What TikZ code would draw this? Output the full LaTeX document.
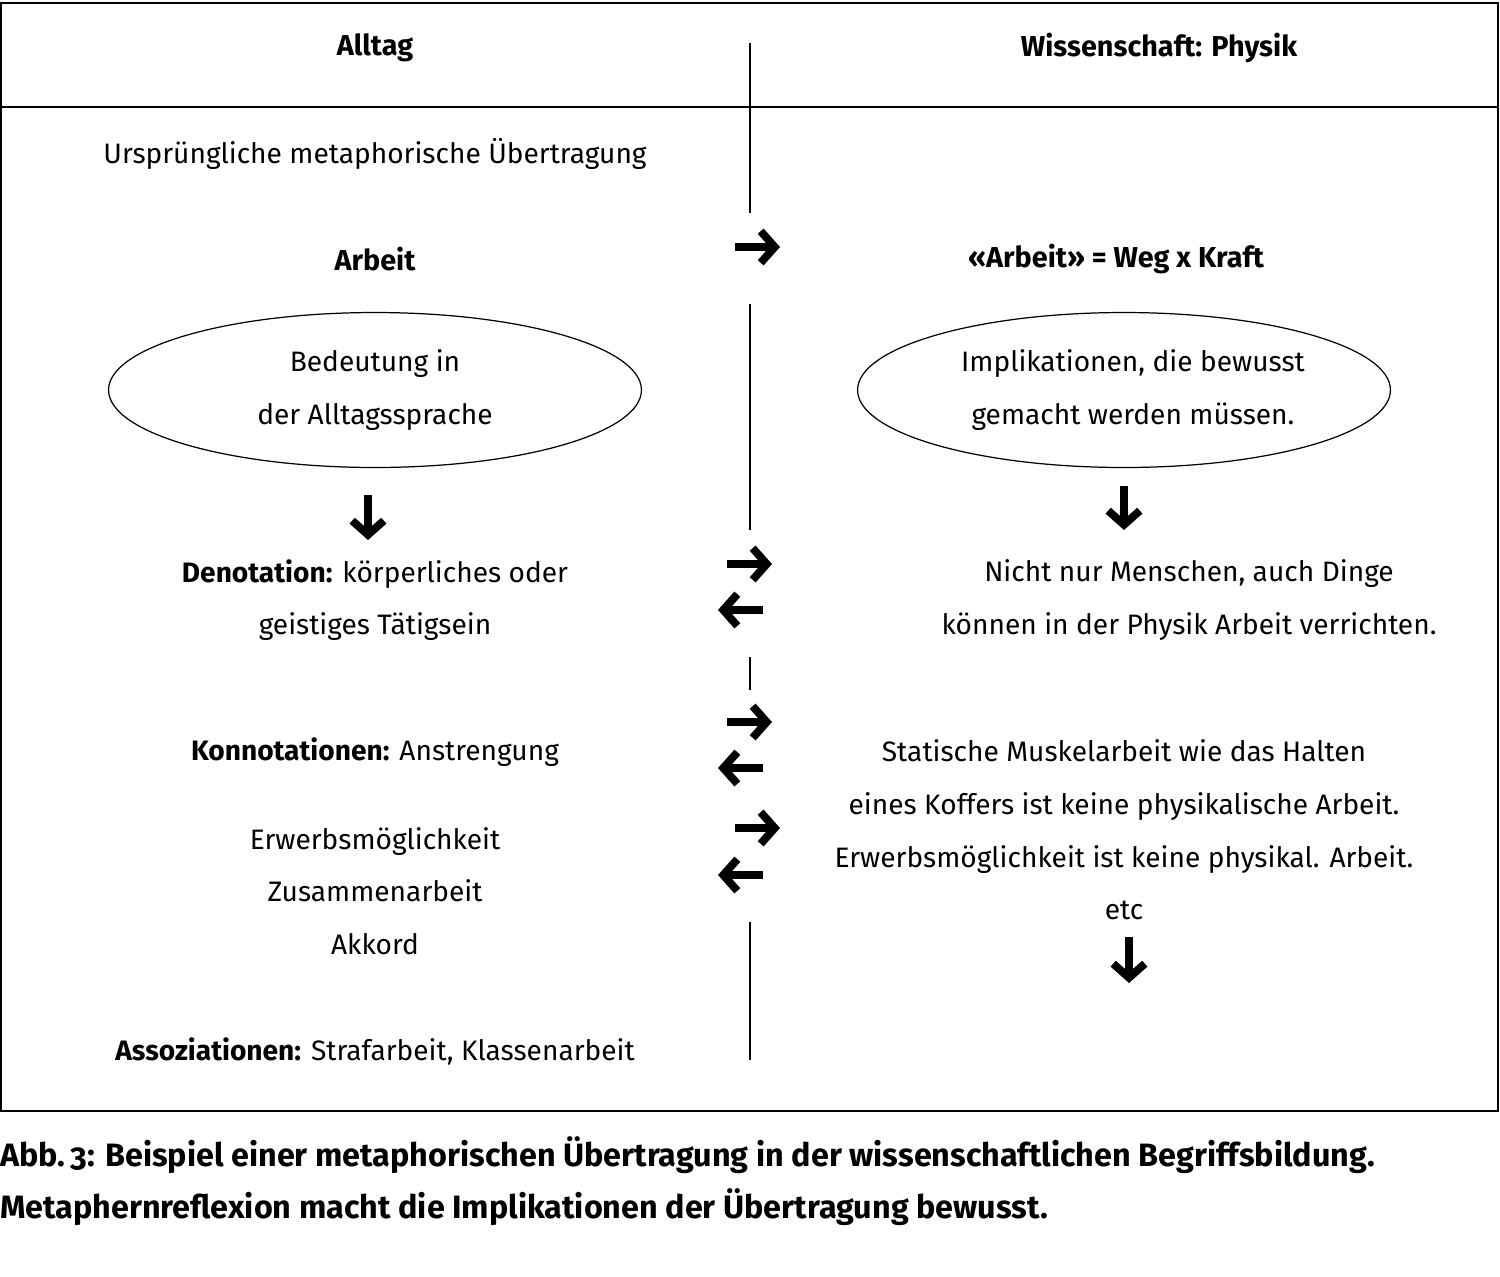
\documentclass[tikz,border=0pt]{standalone}
\usepackage{fontspec}
\setmainfont{Fira Sans}
\usetikzlibrary{arrows.meta,positioning,shapes.geometric}

\begin{document}
\begin{tikzpicture}[x=0.02cm,y=-0.02cm,font=\fontsize{16}{30}\selectfont,
  txt/.style={align=center,inner sep=0pt},
  bold/.style={font=\fontsize{16.4}{30}\selectfont\bfseries},
  bubble/.style={draw,line width=0.7pt,ellipse,minimum width=10.66cm,minimum height=3.1cm,inner sep=0pt,align=center},
  fatarrow/.style={line width=4.5pt,-{Straight Barb[length=8pt,width=18pt,line width=4.5pt]}},
  divider/.style={line width=0.8pt}]
\useasboundingbox (0,0) rectangle (1500,1276);

% frame and header
\draw[line width=1.1pt] (1,3) rectangle (1498,1111);
\draw[line width=1.1pt] (1,107) -- (1498,107);
\draw[divider] (750,43) -- (750,213);
\draw[divider] (750,304) -- (750,530);
\draw[divider] (750,657) -- (750,690);
\draw[divider] (750,922) -- (750,1060);
\node[txt,bold] (alltag) at (375,48) {Alltag};
\node[txt,bold] (physik) at (1159,48) {Wissenschaft: Physik};

% left column
\node[txt] (urspr) at (375,154) {Ursprüngliche metaphorische Übertragung};
\node[txt,bold] (arbeit) at (375,259) {Arbeit};
\node[bubble] (bedeutung) at (375,390) {Bedeutung in\\der Alltagssprache};
\node[txt] (denot) at (375,600) {\textbf{Denotation:} körperliches oder\\geistiges Tätigsein};
\node[txt] (konnot) at (375,752) {\textbf{Konnotationen:} Anstrengung};
\node[txt] (erwerb) at (375,891) {Erwerbsmöglichkeit\\Zusammenarbeit\\Akkord};
\node[txt] (assoz) at (375,1051) {\textbf{Assoziationen:} Strafarbeit, Klassenarbeit};

% right column
\node[txt,bold] (formel) at (1116,259) {«Arbeit» = Weg x Kraft};
\node[bubble] (implik) at (1124,390) {\hspace*{0.36cm}Implikationen, die bewusst\\\hspace*{0.36cm}gemacht werden müssen.};
\node[txt] (dinge) at (1189,600) {Nicht nur Menschen, auch Dinge\\können in der Physik Arbeit verrichten.};
\node[txt] (statisch) at (1124,830) {Statische Muskelarbeit wie das Halten\\eines Koffers ist keine physikalische Arbeit.\\Erwerbsmöglichkeit ist keine physikal. Arbeit.\\etc};

% arrows
\coordinate (r1a) at (735,247); \coordinate (r1b) at (780,247);
\coordinate (r2a) at (727,564); \coordinate (r2b) at (772,564);
\coordinate (l2a) at (763,610); \coordinate (l2b) at (718,610);
\coordinate (r3a) at (727,722); \coordinate (r3b) at (772,722);
\coordinate (l3a) at (763,768); \coordinate (l3b) at (718,768);
\coordinate (r4a) at (735,828); \coordinate (r4b) at (780,828);
\coordinate (l4a) at (763,875); \coordinate (l4b) at (718,875);
\coordinate (d1a) at (368,495); \coordinate (d1b) at (368,540);
\coordinate (d2a) at (1124,486); \coordinate (d2b) at (1124,530);
\coordinate (d3a) at (1129,937); \coordinate (d3b) at (1129,983);
\foreach \s/\e in {r1a/r1b,r2a/r2b,l2a/l2b,r3a/r3b,l3a/l3b,r4a/r4b,l4a/l4b,d1a/d1b,d2a/d2b,d3a/d3b}
  \draw[fatarrow] (\s) -- (\e);

% caption
\node[anchor=west,inner sep=0pt,align=left,font=\fontsize{18.4}{30}\selectfont\bfseries] (caption) at (0,1181)
  {Abb.\,{\addfontfeatures{Numbers=OldStyle}3}: Beispiel einer metaphorischen Übertragung in der wissenschaftlichen Begriffsbildung.\\
   Metaphernreflexion macht die Implikationen der Übertragung bewusst.};
\end{tikzpicture}
\end{document}
